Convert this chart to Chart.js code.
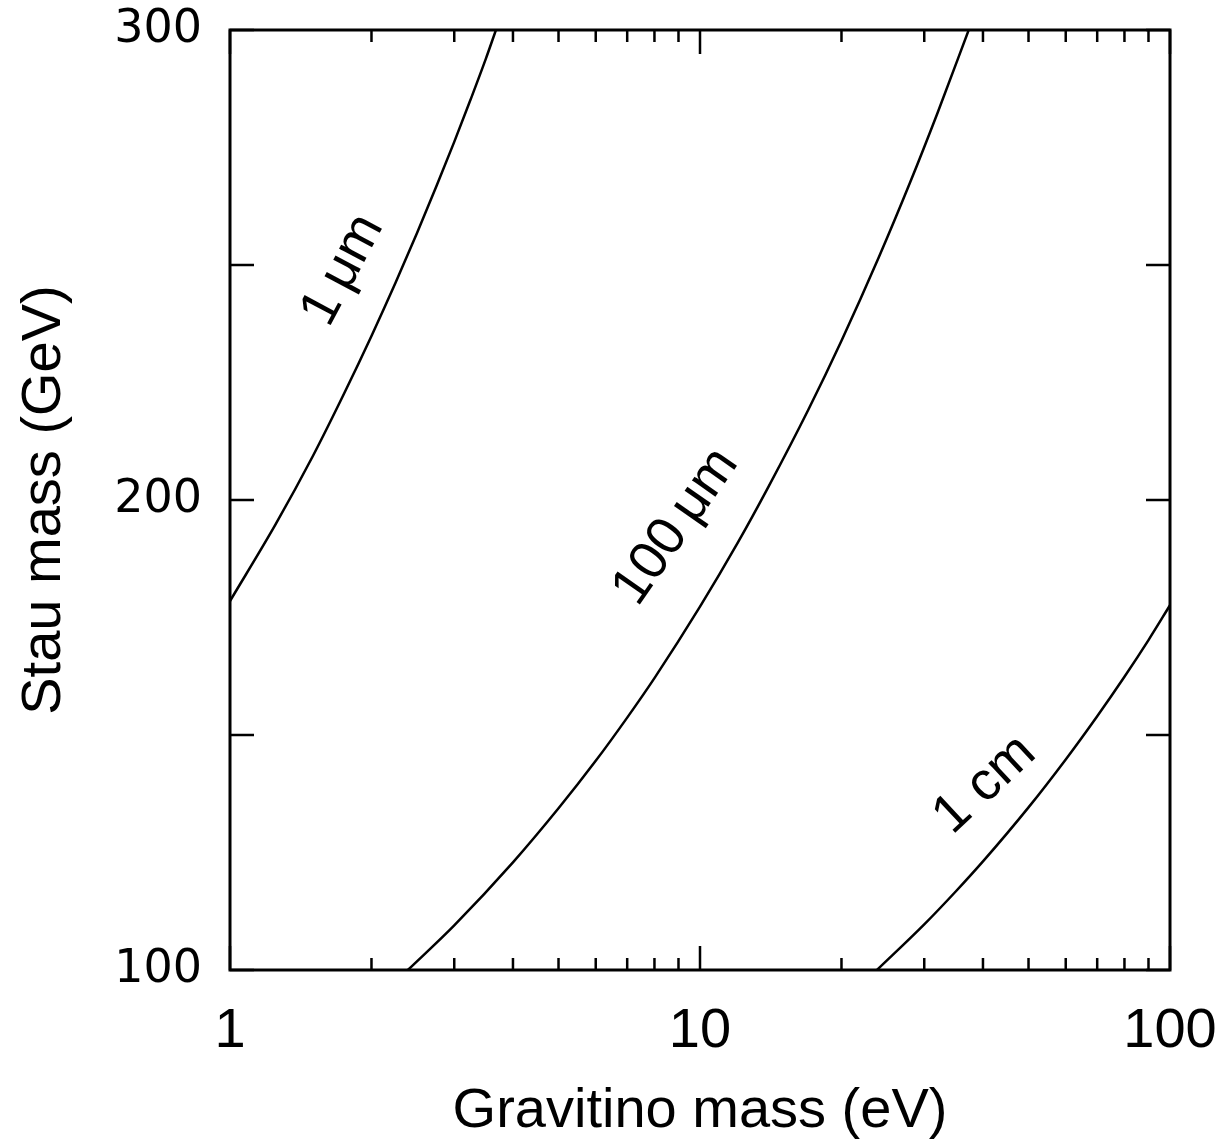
<!DOCTYPE html>
<html>
<head>
<meta charset="utf-8">
<script src="https://cdn.jsdelivr.net/npm/chart.js@4.4.0/dist/chart.umd.min.js"></script>
<style>
    html, body { margin: 0; padding: 0; background: #fff; }
    #wrap { width: 1227px; height: 1147px; }
</style>
</head>
<body>
<div id="wrap"><canvas id="chart" width="1227" height="1147"></canvas></div>
<script>
// axis ticks
const gravitinoTicks = [1, 10, 100];
const gravitinoMinor = [2, 3, 4, 5, 6, 7, 8, 9, 20, 30, 40, 50, 60, 70, 80, 90];
const stauTicks = [100, 150, 200, 250, 300];
const stauLabels = [100, 200, 300];

// decay length contours
const micron1X = [1, 1.25, 1.5, 1.75, 2, 2.25, 2.5, 2.75, 3, 3.25, 3.5, 3.68];
const micron1Y = [178.5, 194.8, 209.3, 222.7, 234.9, 246.2, 256.8, 266.8, 276.2, 285.2, 293.8, 300];

const micron100X = [2.39, 3, 4, 5, 6, 7, 8, 10, 12, 14, 17, 20, 24, 28, 32, 37.3];
const micron100Y = [100, 109.5, 122.9, 134.4, 144.5, 153.7, 162.1, 177.3, 190.7, 202.9, 219.2, 233.9, 251.6, 267.6, 282.3, 300];

const cm1X = [23.8, 30, 35, 40, 50, 60, 70, 80, 90, 100];
const cm1Y = [100, 109.7, 116.7, 123.1, 134.6, 144.8, 154.0, 162.4, 170.2, 177.6];

// curve labels (anchored in data coordinates)
const curveLabels = ['1\u2009\u03bcm', '100\u2009\u03bcm', '1 cm'];
const labelX = [1.74, 8.89, 40.4];
const labelY = [248.9, 194.3, 139.4];
const labelAngle = [-62, -55, -43];

function toPoints( xs, ys ){
    return xs.map( function( v, i ){
        return { x: v, y: ys[i] };
    } );
}

function curve( label, xs, ys ){
    return {
        label: label,
        data: toPoints( xs, ys ),
        showLine: true,
        borderColor: '#000',
        borderWidth: 2.5,
        pointRadius: 0,
        fill: false,
        cubicInterpolationMode: 'monotone'
    };
}

const framePlugin = {
    id: 'frame',
    afterDatasetsDraw( chart ){
        const ctx = chart.ctx;
        const a = chart.chartArea;
        const xs = chart.scales.x;
        const ys = chart.scales.y;
        ctx.save();
        ctx.strokeStyle = '#000';
        ctx.lineWidth = 2.5;
        ctx.beginPath();
        stauTicks.forEach( function( v ){
            const py = ys.getPixelForValue( v );
            ctx.moveTo( a.left, py );
            ctx.lineTo( a.left + 24, py );
            ctx.moveTo( a.right, py );
            ctx.lineTo( a.right - 24, py );
        } );
        gravitinoTicks.forEach( function( v ){
            const px = xs.getPixelForValue( v );
            ctx.moveTo( px, a.bottom );
            ctx.lineTo( px, a.bottom - 24 );
            ctx.moveTo( px, a.top );
            ctx.lineTo( px, a.top + 24 );
        } );
        gravitinoMinor.forEach( function( v ){
            const px = xs.getPixelForValue( v );
            ctx.moveTo( px, a.bottom );
            ctx.lineTo( px, a.bottom - 12 );
            ctx.moveTo( px, a.top );
            ctx.lineTo( px, a.top + 12 );
        } );
        ctx.stroke();
        ctx.lineWidth = 3;
        ctx.strokeRect( a.left, a.top, a.right - a.left, a.bottom - a.top );

        ctx.fillStyle = '#000';
        ctx.font = '54px "Liberation Sans", Arial, sans-serif';
        ctx.textAlign = 'center';
        ctx.textBaseline = 'middle';
        curveLabels.forEach( function( t, i ){
            ctx.save();
            ctx.translate( xs.getPixelForValue( labelX[i] ), ys.getPixelForValue( labelY[i] ) );
            ctx.rotate( labelAngle[i] * Math.PI / 180 );
            ctx.fillText( t, 0, 0 );
            ctx.restore();
        } );
        ctx.restore();
    }
};

const config = {
    type: 'scatter',
    data: {
        datasets: [
            curve( '1 um', micron1X, micron1Y ),
            curve( '100 um', micron100X, micron100Y ),
            curve( '1 cm', cm1X, cm1Y )
        ]
    },
    options: {
        responsive: false,
        animation: false,
        devicePixelRatio: 1,
        layout: {
            padding: { top: 30, right: 57, bottom: 0, left: 0 }
        },
        plugins: {
            legend: { display: false },
            tooltip: { enabled: false }
        },
        scales: {
            x: {
                type: 'logarithmic',
                position: 'bottom',
                min: 1,
                max: 100,
                grid: { display: false, drawTicks: false },
                border: { display: false },
                afterBuildTicks: function( scale ){
                    scale.ticks = gravitinoTicks.map( function( v ){ return { value: v }; } );
                },
                afterFit: function( scale ){
                    scale.height = 177;
                    scale.paddingLeft = 0;
                    scale.paddingRight = 0;
                },
                ticks: {
                    color: '#000',
                    font: { family: '"Liberation Sans", Arial, sans-serif', size: 56 },
                    padding: 28,
                    maxRotation: 0,
                    autoSkip: false,
                    callback: function( value ){
                        return String( value );
                    }
                },
                title: {
                    display: true,
                    text: 'Gravitino mass (eV)',
                    color: '#000',
                    font: { family: '"Liberation Sans", Arial, sans-serif', size: 56 },
                    padding: { top: 0, bottom: 2 }
                }
            },
            y: {
                type: 'linear',
                min: 100,
                max: 300,
                grid: { display: false, drawTicks: false },
                border: { display: false },
                afterBuildTicks: function( scale ){
                    scale.ticks = stauTicks.map( function( v ){ return { value: v }; } );
                },
                afterFit: function( scale ){
                    scale.width = 230;
                    scale.paddingTop = 0;
                    scale.paddingBottom = 0;
                },
                ticks: {
                    color: '#000',
                    font: { family: '"DejaVu Sans", sans-serif', size: 46 },
                    padding: 28,
                    autoSkip: false,
                    callback: function( value ){
                        return stauLabels.indexOf( value ) >= 0 ? String( value ) : '';
                    }
                },
                title: {
                    display: true,
                    text: 'Stau mass (GeV)',
                    color: '#000',
                    font: { family: '"Liberation Sans", Arial, sans-serif', size: 56 },
                    padding: { top: 11, bottom: 0 }
                }
            }
        }
    },
    plugins: [ framePlugin ]
};

const chart = new Chart( document.getElementById( 'chart' ), config );
</script>
</body>
</html>
